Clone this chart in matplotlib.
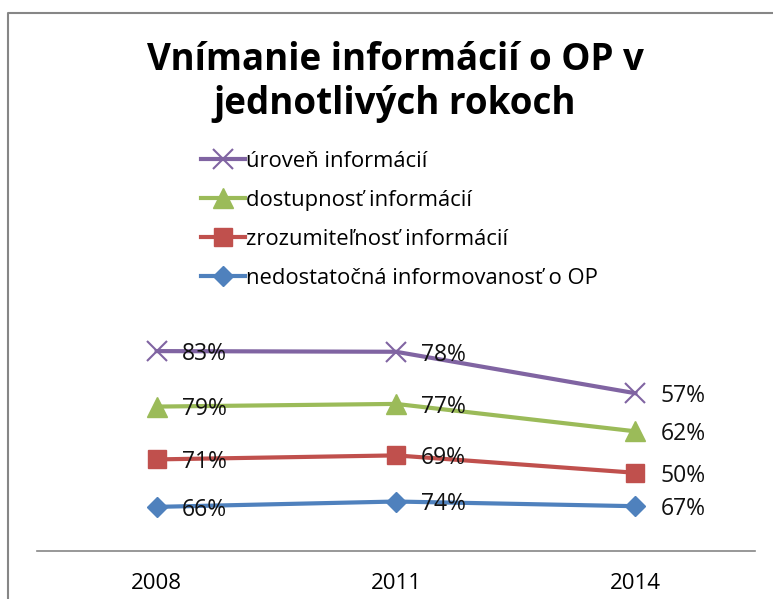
import matplotlib
matplotlib.use("Agg")
import matplotlib.pyplot as plt
from matplotlib.lines import Line2D
import numpy as np

years = ["2008", "2011", "2014"]
series_names = ["nedostatočná informovanosť o OP", "zrozumiteľnosť informácií",
                "dostupnosť informácií", "úroveň informácií"]
nedostatocna = [66, 74, 67]
zrozumitelnost = [71, 69, 50]
dostupnost = [79, 77, 62]
uroven = [83, 78, 57]
colors = ["#4F81BD", "#C0504D", "#9BBB59", "#8064A2"]
markers = ["D", "s", "^", "x"]

plt.rcParams['font.family'] = ['Open Sans', 'DejaVu Sans']

W, H = 773, 599
fig = plt.figure(figsize=(W/100, H/100), dpi=100)

# chart frame: only top and left edges visible
fx, fy = 8/W, 1 - 13/H
fig.add_artist(Line2D([fx, fx, 1.0], [0.0, fy, fy], transform=fig.transFigure,
                      color="#868686", linewidth=1.5))

x0, x1 = 37, 755
ybase, ytop = 551, 317
ax = fig.add_axes([x0/W, 1 - ybase/H, (x1 - x0)/W, (ybase - ytop)/H])
ax.set_xlim(-0.5, 2.5)
ax.set_ylim(0, 350)
ax.patch.set_alpha(0)
for s in ["top", "right", "left"]:
    ax.spines[s].set_visible(False)
ax.spines["bottom"].set_color("#868686")
ax.spines["bottom"].set_linewidth(1.2)
ax.set_yticks([])
ax.set_xticks(range(len(years)))
ax.set_xticklabels(years, fontsize=16)
ax.tick_params(axis="x", length=0, pad=16)

data = [nedostatocna, zrozumitelnost, dostupnost, uroven]
cum = np.cumsum(np.array(data), axis=0)
xs = np.arange(len(years))
handles = []
for i, (vals, c, m, name) in enumerate(zip(data, colors, markers, series_names)):
    y = cum[i]
    if m == "x":
        h, = ax.plot(xs, y, color=c, lw=3, marker="x", ms=14, mew=1.5, label=name,
                     clip_on=False)
    elif m == "D":
        h, = ax.plot(xs, y, color=c, lw=3, marker="D", ms=10, label=name, clip_on=False)
    elif m == "^":
        h, = ax.plot(xs, y, color=c, lw=3, marker="^", ms=15, label=name, clip_on=False)
    else:
        h, = ax.plot(xs, y, color=c, lw=3, marker="s", ms=13, label=name, clip_on=False)
    handles.append(h)
    for xi, yi, v in zip(xs, y, vals):
        ax.annotate(f"{v}%", (xi, yi), xytext=(18, -2), textcoords="offset points",
                    ha="left", va="center", fontsize=16.5, color="#111111")

fig.text(395/W, 1 - 82/H, "Vnímanie informácií o OP v\njednotlivých rokoch",
         ha="center", va="center", fontsize=26.5, fontweight="bold",
         linespacing=1.2, color="#000000")

leg = fig.legend(handles[::-1], series_names[::-1], loc="upper left",
                 bbox_to_anchor=(190/W, 1 - 140/H), frameon=False,
                 fontsize=15.8, handlelength=2.0, handletextpad=0.05,
                 labelspacing=0.82, borderpad=0)

fig.savefig("out.png", dpi=100)
